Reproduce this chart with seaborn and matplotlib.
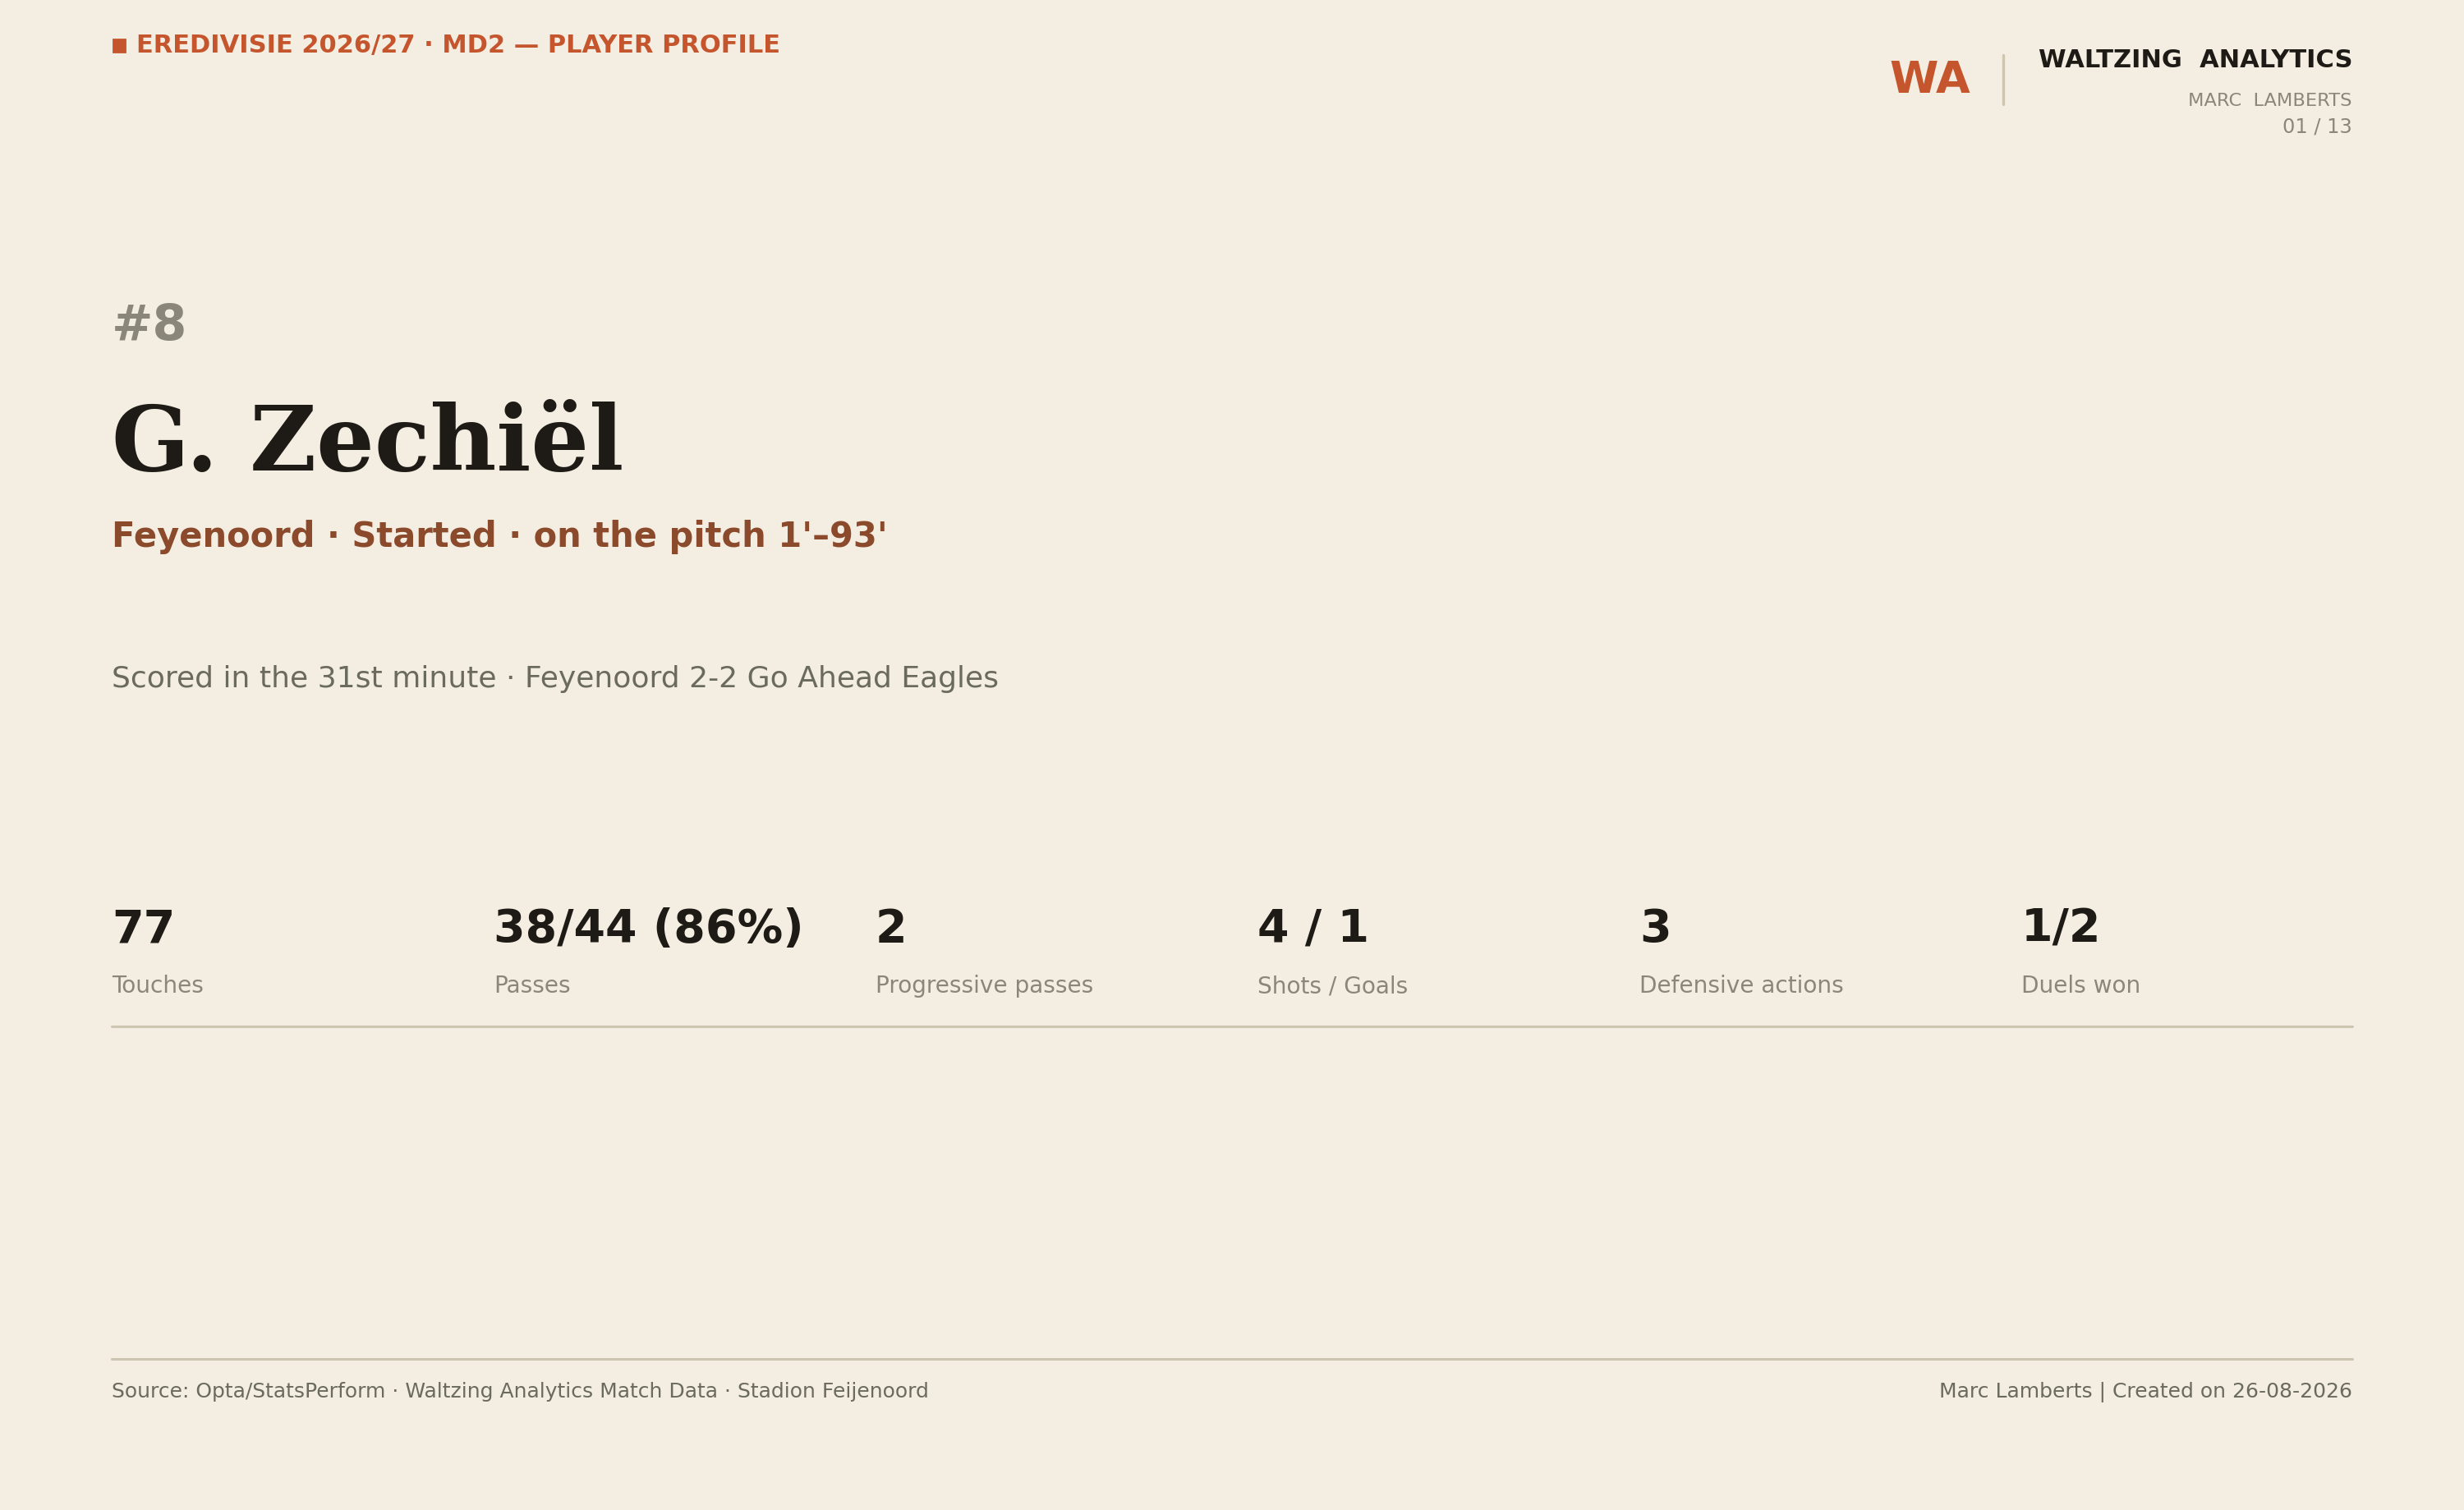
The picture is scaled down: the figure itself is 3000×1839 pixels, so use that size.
import matplotlib
matplotlib.use("Agg")
import matplotlib.pyplot as plt
import seaborn as sns
from matplotlib.patches import Rectangle
from matplotlib.lines import Line2D

# ---- data ----
header_text = "EREDIVISIE 2026/27 · MD2 — PLAYER PROFILE"
brand_mark = "WA"
brand_name = "WALTZING  ANALYTICS"
brand_author = "MARC  LAMBERTS"
page_label = "01 / 13"
shirt_number = "#8"
player_name = "G. Zechiël"
player_sub = "Feyenoord · Started · on the pitch 1'–93'"
match_note = "Scored in the 31st minute · Feyenoord 2-2 Go Ahead Eagles"
stat_values = ["77", "38/44 (86%)", "2", "4 / 1", "3", "1/2"]
stat_labels = ["Touches", "Passes", "Progressive passes", "Shots / Goals",
               "Defensive actions", "Duels won"]
footer_left = "Source: Opta/StatsPerform · Waltzing Analytics Match Data · Stadion Feijenoord"
footer_right = "Marc Lamberts | Created on 26-08-2026"

# ---- style ----
BG = "#f4eee2"
ORANGE = "#c4552d"
BROWN = "#8b4a2b"
DARK = "#1e1b16"
GREY = "#8a877a"
MID = "#6b6a5e"
RULE = "#cdc5b1"

sns.set_theme(style="white", rc={"figure.facecolor": BG, "axes.facecolor": BG})
plt.rcParams["font.family"] = ["DejaVu Sans"]

W, H = 3000, 1839
DPI = 200
fig = plt.figure(figsize=(W / DPI, H / DPI), dpi=DPI)
fig.patch.set_facecolor(BG)


def fx(px):
    return px / W


def fy(py):
    return 1 - py / H


def txt(x, y, s, size, color, weight="normal", ha="left", family=None):
    kw = {}
    if family:
        kw["family"] = family
    fig.text(fx(x), fy(y), s, fontsize=size, color=color, fontweight=weight,
             ha=ha, va="baseline", **kw)


LEFT, RIGHT = 136, 2864

# header
fig.patches.append(Rectangle((fx(138), fy(63)), fx(14), 15 / H,
                             transform=fig.transFigure, color=ORANGE))
txt(166, 64, header_text, 11.0, ORANGE, "bold")

# brand block
txt(2300, 113, brand_mark, 19.4, ORANGE, "bold")
fig.add_artist(Line2D([fx(2439), fx(2439)], [fy(67), fy(127)],
                      transform=fig.transFigure, color="#cfc6b0", lw=1.2))
txt(RIGHT, 82, brand_name, 11, DARK, "bold", ha="right")
txt(RIGHT, 129, brand_author, 8.1, GREY, ha="right")
txt(RIGHT, 162, page_label, 8.7, GREY, ha="right")

# player block
txt(LEFT, 414, shirt_number, 21.7, GREY, "bold")
txt(LEFT, 573, player_name, 40, DARK, "bold", family=["DejaVu Serif"])
txt(LEFT, 666, player_sub, 15, BROWN, "bold")
txt(LEFT, 837, match_note, 13, MID)

# stats row
col_step = 465
for i, (v, lab) in enumerate(zip(stat_values, stat_labels)):
    x = LEFT + i * col_step
    txt(x, 1147, v, 20, DARK, "bold")
    txt(x, 1209, lab, 10.1, GREY)

fig.add_artist(Line2D([fx(LEFT), fx(RIGHT)], [fy(1250), fy(1250)],
                      transform=fig.transFigure, color=RULE, lw=1.1))

# footer
fig.add_artist(Line2D([fx(LEFT), fx(RIGHT)], [fy(1655), fy(1655)],
                      transform=fig.transFigure, color=RULE, lw=1.1))
txt(LEFT, 1702, footer_left, 9, MID)
txt(RIGHT, 1702, footer_right, 9, MID, ha="right")

fig.savefig("out.png", dpi=DPI, facecolor=BG)
